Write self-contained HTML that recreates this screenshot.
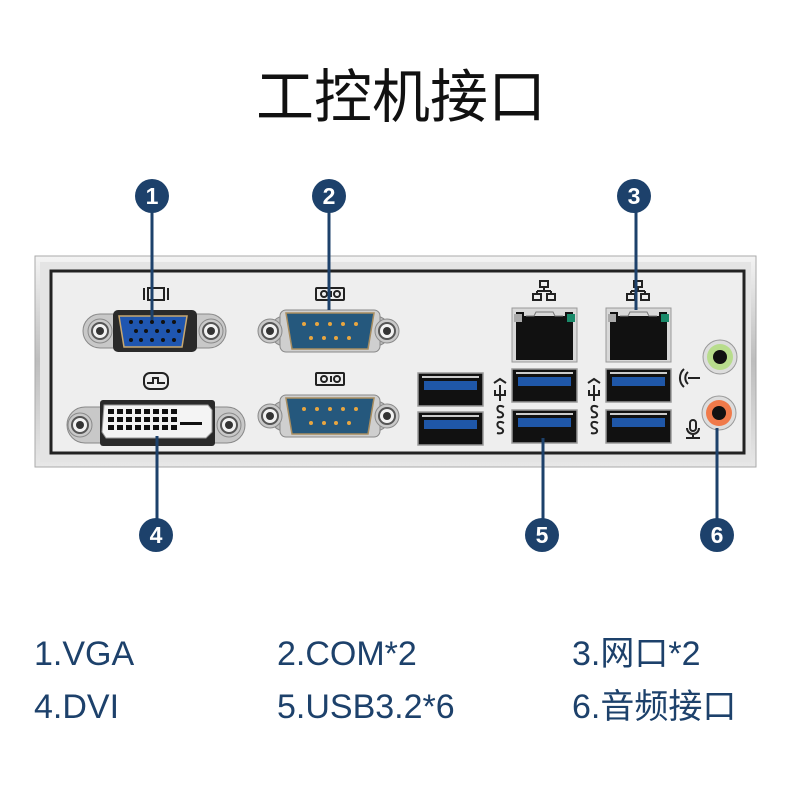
<!DOCTYPE html>
<html><head><meta charset="utf-8"><style>
html,body{margin:0;padding:0;background:#fff;}
body{width:800px;height:800px;overflow:hidden;}
svg{display:block}
</style></head><body>
<svg width="800" height="800" viewBox="0 0 800 800" xmlns="http://www.w3.org/2000/svg">
<defs>
<linearGradient id="fr" x1="0" y1="0" x2="0" y2="1"><stop offset="0" stop-color="#f4f4f4"/><stop offset="0.5" stop-color="#bdbdbd"/><stop offset="1" stop-color="#e8e8e8"/></linearGradient>
<g id="screw"><circle r="12" fill="#c9c9c9" stroke="#8a8a8a"/><circle r="8" fill="#f2f2f2" stroke="#555" stroke-width="2"/><circle r="4" fill="#333"/></g>
<g id="usb"><rect x="0" y="0" width="65" height="33" fill="#111" stroke="#999" stroke-width="1.5"/><rect x="6" y="8" width="53" height="9" fill="#1f57a8"/><rect x="4" y="3" width="57" height="2" fill="#ccc"/></g>
<g id="rj"><rect x="0" y="0" width="65" height="54" fill="#d8d8d8" stroke="#999"/><rect x="4" y="4" width="57" height="48" fill="#111"/><rect x="2" y="6" width="8" height="8" fill="#aaa"/><rect x="55" y="6" width="8" height="8" fill="#1a8a6a"/><rect x="12" y="2" width="41" height="6" fill="#d8d8d8"/><path d="M14 8 L22 8 L24 4 L41 4 L43 8 L51 8" fill="none" stroke="#777"/></g>
<g id="com"><rect x="-60" y="-15" width="120" height="30" rx="15" fill="#bdbdbd" stroke="#888"/><rect x="-50" y="-21" width="100" height="42" rx="6" fill="#cfcfcf" stroke="#888"/><path d="M-44 -18 L44 -18 L38 18 L-38 18 Z" fill="#25587d" stroke="#a88d60" stroke-width="1.5"/>
<g fill="#e8a640"><circle cx="-26" cy="-7" r="2"/><circle cx="-13" cy="-7" r="2"/><circle cx="0" cy="-7" r="2"/><circle cx="13" cy="-7" r="2"/><circle cx="26" cy="-7" r="2"/><circle cx="-19" cy="7" r="2"/><circle cx="-6" cy="7" r="2"/><circle cx="6" cy="7" r="2"/><circle cx="19" cy="7" r="2"/></g></g>
<g id="uicon" fill="none" stroke="#222" stroke-width="2"><path d="M0 0 V16 M-5 5 V10 H5 V5 M-6 -2 L0 -6 L6 -2"/><path d="M4 22 C-4 18 -4 26 0 27 C5 28 4 34 -3 32" /><path d="M4 38 C-4 34 -4 42 0 43 C5 44 4 50 -3 48"/></g>
<g id="lan" fill="none" stroke="#222" stroke-width="2"><rect x="-4" y="0" width="8" height="6"/><path d="M0 6 V10 M-7 10 H7 M-7 10 V13 M7 10 V13"/><rect x="-11" y="13" width="8" height="6"/><rect x="3" y="13" width="8" height="6"/></g>
<g id="rsi" fill="none" stroke="#222" stroke-width="2"><rect x="-14" y="-6" width="28" height="12" rx="1"/><circle cx="-6" cy="0" r="3"/><circle cx="7" cy="0" r="3"/><path d="M1 -3 V3"/></g>
</defs>

<text x="401" y="117" text-anchor="middle" font-family="'Liberation Sans','Noto Sans CJK SC',sans-serif" font-size="58" fill="#111">工控机接口</text>

<rect x="35" y="256" width="721" height="211" fill="url(#fr)" stroke="#aaa"/>
<rect x="40" y="262" width="711" height="200" fill="#e4e4e4"/>
<rect x="51" y="271" width="693" height="182" fill="#eeeeee" stroke="#222" stroke-width="3"/>

<rect x="83" y="314" width="143" height="34" rx="17" fill="#c8c8c8" stroke="#888"/>
<use href="#screw" x="100" y="331"/><use href="#screw" x="211" y="331"/>
<rect x="113" y="310" width="84" height="42" rx="5" fill="#2a2a2a"/>
<path d="M119 316 L187 316 L182 347 L124 347 Z" fill="#1f56b0" stroke="#c8a870" stroke-width="1.5"/>
<g fill="#111"><circle cx="131" cy="322" r="2"/><circle cx="141" cy="322" r="2"/><circle cx="152" cy="322" r="2"/><circle cx="163" cy="322" r="2"/><circle cx="174" cy="322" r="2"/><circle cx="136" cy="331" r="2"/><circle cx="146" cy="331" r="2"/><circle cx="157" cy="331" r="2"/><circle cx="168" cy="331" r="2"/><circle cx="179" cy="331" r="2"/><circle cx="131" cy="340" r="2"/><circle cx="141" cy="340" r="2"/><circle cx="152" cy="340" r="2"/><circle cx="163" cy="340" r="2"/><circle cx="174" cy="340" r="2"/></g>
<g fill="none" stroke="#222" stroke-width="2"><path d="M144 288 V300"/><rect x="148" y="288" width="16" height="12"/><path d="M168 288 V300"/></g>

<rect x="67" y="407" width="178" height="36" rx="18" fill="#c8c8c8" stroke="#888"/>
<use href="#screw" x="80" y="425"/><use href="#screw" x="229" y="425"/>
<rect x="100" y="400" width="115" height="46" rx="3" fill="#2a2a2a"/>
<path d="M104 405 L208 405 L212 410 L212 432 L206 438 L106 438 L102 432 Z" fill="#f4f4f4" stroke="#999"/>
<g fill="#111">
<rect x="108" y="409" width="6" height="5"/><rect x="117" y="409" width="6" height="5"/><rect x="126" y="409" width="6" height="5"/><rect x="135" y="409" width="6" height="5"/><rect x="144" y="409" width="6" height="5"/><rect x="153" y="409" width="6" height="5"/><rect x="162" y="409" width="6" height="5"/><rect x="171" y="409" width="6" height="5"/>
<rect x="108" y="417" width="6" height="5"/><rect x="117" y="417" width="6" height="5"/><rect x="126" y="417" width="6" height="5"/><rect x="135" y="417" width="6" height="5"/><rect x="144" y="417" width="6" height="5"/><rect x="153" y="417" width="6" height="5"/><rect x="162" y="417" width="6" height="5"/><rect x="171" y="417" width="6" height="5"/>
<rect x="108" y="425" width="6" height="5"/><rect x="117" y="425" width="6" height="5"/><rect x="126" y="425" width="6" height="5"/><rect x="135" y="425" width="6" height="5"/><rect x="144" y="425" width="6" height="5"/><rect x="153" y="425" width="6" height="5"/><rect x="162" y="425" width="6" height="5"/><rect x="171" y="425" width="6" height="5"/>
<rect x="180" y="422" width="22" height="3"/></g>
<g fill="none" stroke="#222" stroke-width="2"><rect x="144" y="373" width="24" height="16" rx="6"/><path d="M147 383 H153 V378 H158 V383 H165"/></g>

<use href="#com" x="330" y="331"/><use href="#screw" x="270" y="331"/><use href="#screw" x="387" y="331"/>
<use href="#com" x="330" y="416"/><use href="#screw" x="270" y="416"/><use href="#screw" x="387" y="416"/>
<use href="#rsi" x="330" y="294"/><use href="#rsi" x="330" y="379"/>

<use href="#usb" x="418" y="373"/><use href="#usb" x="418" y="412"/>
<use href="#usb" x="512" y="369"/><use href="#usb" x="512" y="410"/>
<use href="#usb" x="606" y="369"/><use href="#usb" x="606" y="410"/>
<use href="#uicon" x="500" y="385"/><use href="#uicon" x="594" y="385"/>

<use href="#rj" x="512" y="308"/><use href="#rj" x="606" y="308"/>
<use href="#lan" x="544" y="281"/><use href="#lan" x="638" y="281"/>

<circle cx="720" cy="357" r="17" fill="#ddd" stroke="#999"/><circle cx="720" cy="357" r="13" fill="#b8dd8c"/><circle cx="720" cy="357" r="7" fill="#111"/>
<circle cx="719" cy="413" r="17" fill="#ddd" stroke="#999"/><circle cx="719" cy="413" r="13" fill="#f07a4a"/><circle cx="719" cy="413" r="7" fill="#111"/>
<g fill="none" stroke="#222" stroke-width="2"><path d="M688 372 A8 8 0 0 0 688 384 M684 369 A12 12 0 0 0 684 387 M688 378 H700"/><rect x="690" y="420" width="6" height="11" rx="3"/><path d="M687 428 A6 6 0 0 0 699 428 M693 434 V437 M686 438 H700"/></g>

<g stroke="#1d416b" stroke-width="3">
<line x1="152" y1="200" x2="152" y2="320"/>
<line x1="329" y1="200" x2="329" y2="310"/>
<line x1="636" y1="200" x2="636" y2="310"/>
<line x1="157" y1="436" x2="157" y2="530"/>
<line x1="543" y1="438" x2="543" y2="530"/>
<line x1="717" y1="428" x2="717" y2="530"/>
</g>
<g fill="#1d416b"><circle cx="152" cy="196" r="17"/><circle cx="329" cy="196" r="17"/><circle cx="634" cy="196" r="17"/><circle cx="156" cy="535" r="17"/><circle cx="542" cy="535" r="17"/><circle cx="717" cy="535" r="17"/></g>
<g fill="#fff" font-family="'Liberation Sans',sans-serif" font-size="23" font-weight="bold" text-anchor="middle">
<text x="152" y="204">1</text><text x="329" y="204">2</text><text x="634" y="204">3</text><text x="156" y="543">4</text><text x="542" y="543">5</text><text x="717" y="543">6</text></g>

<g fill="#1d416b" font-family="'Liberation Sans','Noto Sans CJK SC',sans-serif" font-size="34">
<text x="34" y="665">1.VGA</text><text x="277" y="665">2.COM*2</text><text x="572" y="665">3.网口*2</text>
<text x="34" y="718">4.DVI</text><text x="277" y="718">5.USB3.2*6</text><text x="572" y="718">6.音频接口</text>
</g>
</svg>
</body></html>
